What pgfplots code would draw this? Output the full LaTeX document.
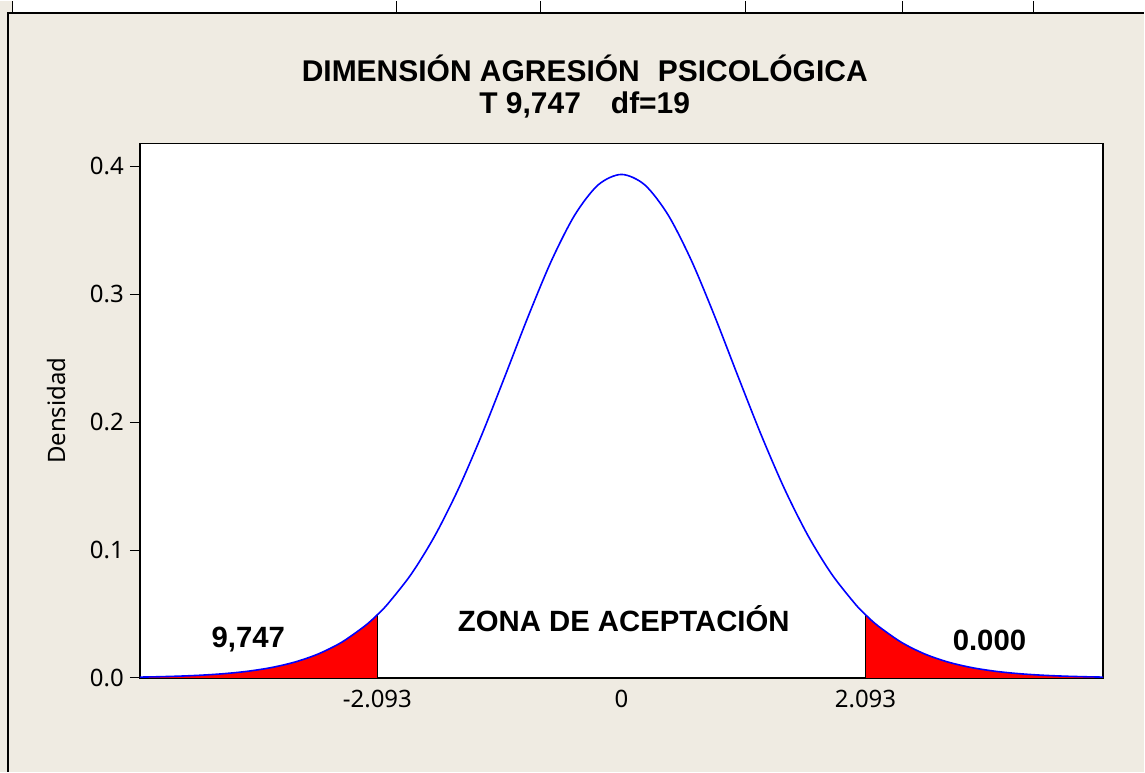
\documentclass[border=0pt]{standalone}
\usepackage{fontspec}
\setmainfont{Liberation Sans}
\newfontfamily\tickfont{Noto Sans}
\usepackage{pgfplots}
\pgfplotsset{compat=1.18}
\definecolor{bg}{RGB}{239,235,226}
\pgfplotstableread{
x y
-4.13 0.00065
-4.0 0.000875
-3.8 0.00138
-3.6 0.00217
-3.4 0.00340
-3.2 0.00528
-3.0 0.00815
-2.8 0.01244
-2.6 0.01876
-2.4 0.02788
-2.2 0.04071
-2.093 0.04945
-2.0 0.05832
-1.8 0.08155
-1.6 0.11124
-1.4 0.14750
-1.2 0.18966
-1.0 0.23573
-0.8 0.28270
-0.6 0.32635
-0.4 0.36206
-0.2 0.38554
0 0.39373
0.2 0.38554
0.4 0.36206
0.6 0.32635
0.8 0.28270
1.0 0.23573
1.2 0.18966
1.4 0.14750
1.6 0.11124
1.8 0.08155
2.0 0.05832
2.093 0.04945
2.2 0.04071
2.4 0.02788
2.6 0.01876
2.8 0.01244
3.0 0.00815
3.2 0.00528
3.4 0.00340
3.6 0.00217
3.8 0.00138
4.0 0.000875
4.13 0.00065
}\curve
\pgfplotstableread{
x y
-4.13 0.00065
-4.0 0.000875
-3.8 0.00138
-3.6 0.00217
-3.4 0.00340
-3.2 0.00528
-3.0 0.00815
-2.8 0.01244
-2.6 0.01876
-2.4 0.02788
-2.2 0.04071
-2.093 0.04945
}\lefttail
\pgfplotstableread{
x y
2.093 0.04945
2.2 0.04071
2.4 0.02788
2.6 0.01876
2.8 0.01244
3.0 0.00815
3.2 0.00528
3.4 0.00340
3.6 0.00217
3.8 0.00138
4.0 0.000875
4.13 0.00065
}\righttail
\begin{document}
\begin{tikzpicture}
% page background and frame
\fill[bg] (-105pt,-70.5pt) rectangle (753.75pt,508.5pt);
\fill[white] (-95.5pt,499.5pt) rectangle (753.75pt,508.5pt);
\foreach \xx in {-95.5,192.75,300.75,454.5,572.25,670.5}
  \draw[line width=0.8pt] (\xx pt,499.5pt) -- (\xx pt,508.5pt);
\draw[line width=1.5pt] (-99pt,-70.5pt) -- (-99pt,499.5pt) -- (753.75pt,499.5pt);
\begin{axis}[
  at={(0,0)}, anchor=south west,
  scale only axis,
  width=723pt, height=401.25pt,
  xmin=-4.13, xmax=4.13,
  ymin=0, ymax=0.418,
  axis background/.style={fill=white},
  axis line style={line width=1pt},
  clip=false,
  xtick={-2.093,0,2.093},
  xticklabels={-2.093,0,2.093},
  ytick={0,0.1,0.2,0.3,0.4},
  yticklabels={0.0,0.1,0.2,0.3,0.4},
  ytick pos=left,
  xtick pos=bottom,
  tick align=outside,
  major tick length=7.5pt,
  x tick style={draw=none},
  y tick style={line width=0.8pt,black},
  ticklabel style={font=\tickfont\fontsize{18}{18}\selectfont},
  xticklabel style={yshift=2pt},
  yticklabel style={xshift=-1pt},
]
\addplot[fill=red, draw=none, smooth] table[x=x,y=y]{\lefttail} \closedcycle;
\addplot[fill=red, draw=none, smooth] table[x=x,y=y]{\righttail} \closedcycle;
\addplot[black, line width=1.1pt] coordinates {(-2.093,0) (-2.093,0.04945)};
\addplot[black, line width=1.1pt] coordinates {(2.093,0) (2.093,0.04945)};
\addplot[blue, line width=1.2pt, smooth] table[x=x,y=y]{\curve};
\node[font=\bfseries\fontsize{22}{22}\selectfont] at (axis cs:-3.20,0.0297) {9,747};
\node[font=\bfseries\fontsize{22}{22}\selectfont] at (axis cs:3.156,0.029) {0.000};
\node[font=\bfseries\fontsize{22}{22}\selectfont] at (axis cs:0.02,0.046) {ZONA DE ACEPTACIÓN};
\node[font=\bfseries\fontsize{22.5}{22.5}\selectfont] at (axis cs:-0.315,0.4766) {DIMENSIÓN AGRESIÓN\hspace{0.6em}PSICOLÓGICA};
\node[font=\bfseries\fontsize{22.5}{22.5}\selectfont] at (axis cs:-0.315,0.4484) {T 9,747\hspace{1.0em}df=19};
\node[rotate=90, font=\tickfont\fontsize{18}{18}\selectfont] at (axis cs:-4.842,0.209) {Densidad};
\end{axis}
\end{tikzpicture}
\end{document}
